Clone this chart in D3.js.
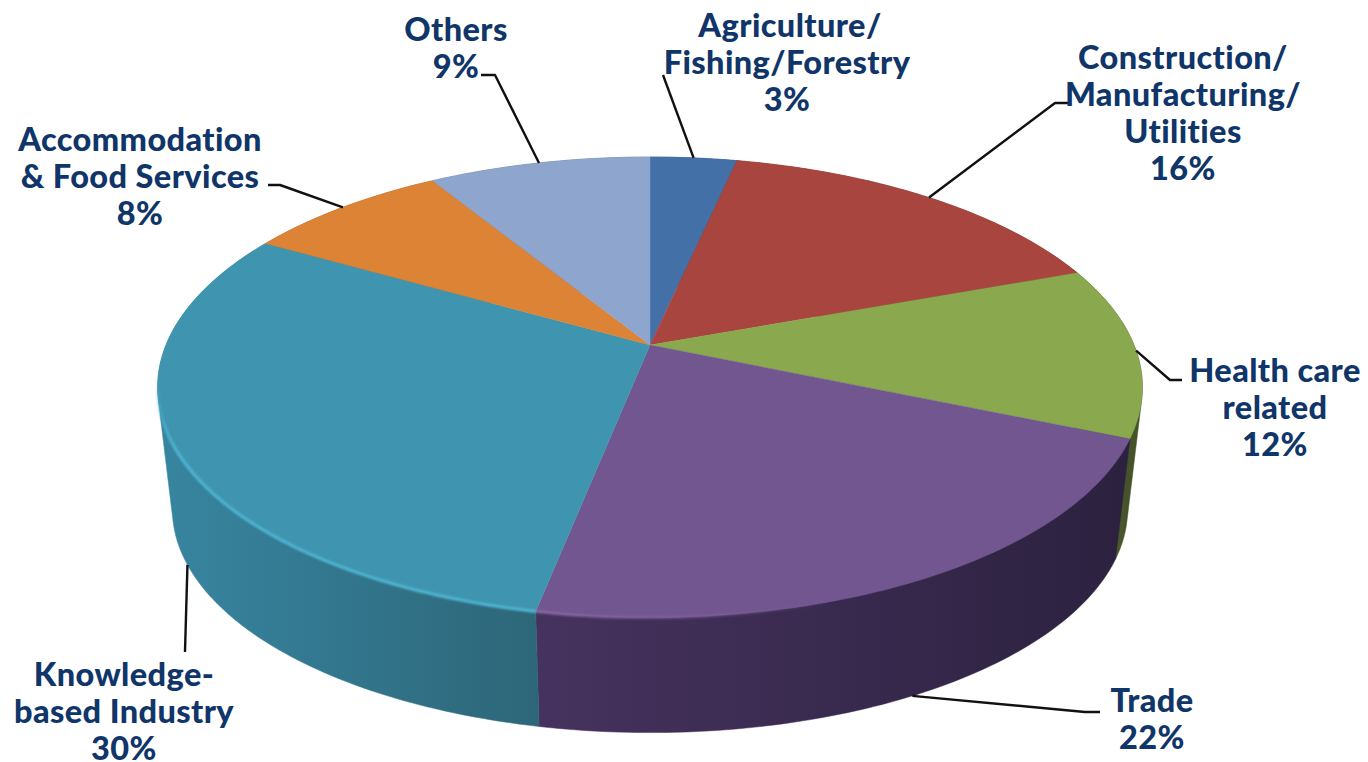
<!DOCTYPE html>
<html><head><meta charset="utf-8">
<script src="https://cdn.jsdelivr.net/npm/d3@7"></script>
<style>html,body{margin:0;padding:0;background:#fff;overflow:hidden}svg{display:block}</style>
</head><body><svg id="c" width="1368" height="762"></svg>
<script>
// data
const categories = ["Agriculture/Fishing/Forestry","Construction/Manufacturing/Utilities","Health care related","Trade","Knowledge-based Industry","Accommodation & Food Services","Others"];
const shares = [3.4,16,12,21.7,30.2,8,8.7];
const labelLines = [["Agriculture/","Fishing/Forestry"],["Construction/","Manufacturing/","Utilities"],["Health care","related"],["Trade"],["Knowledge-","based Industry"],["Accommodation","& Food Services"],["Others"]];
const topColors = ["#4470a8","#a9453f","#8aa84e","#72568f","#3f95b0","#dc8336","#8ea5cd"];
const sideColors = [["#2f4f78","#2f4f78"],["#6f2d2a","#6f2d2a"],["#6a8038","#45522a"],["#46325e","#2c2240"],["#37849f","#2d6678"],["#9a5c26","#9a5c26"],["#63748f","#63748f"]];
// layout
const labelPos = [{x:787,y:24},{x:1183,y:56},{x:1275,y:369},{x:1152,y:699},{x:124,y:673},{x:140,y:138},{x:456,y:28}];
const firstLineShift = [3,0,0,0,0,0,0];
const elbows = [[[663,75]],[[1055,103],[1068,103]],[[1170,380],[1182,380]],[[1085,712],[1100,712]],[[185,652]],[[280,185],[268,185]],[[495,75],[481,75]]];
const onBottomRim = [false,false,false,true,true,false,false];

const svg = d3.select("#c");
const cx=650, cy=345, R=484, S=222.6, k=0.184, depth=123, shrink=0.97;
const rx = d3.scaleLinear().domain([-1,1]).range([-R,R]);
const ry = d3.scaleLinear().domain([-1,1]).range([S,-S]);
function proj(a,bottom){
  const u=Math.sin(a), v=Math.cos(a), d=1+k*v, s=bottom?shrink:1;
  return [cx+s*rx(u)/d, cy+(bottom?depth:0)+s*ry(v)/d];
}
function arcPts(a0,a1,bottom){
  const n=Math.max(2,Math.ceil(Math.abs(a1-a0)/(Math.PI/180)));
  return d3.range(n+1).map(i=>proj(a0+(a1-a0)*i/n,bottom));
}
const line=d3.line();
const arcs=d3.pie().sort(null).value(d=>d)(shares);
const defs=svg.append("defs");
defs.append("filter").attr("id","soft").attr("filterUnits","userSpaceOnUse").attr("x",0).attr("y",0).attr("width",1368).attr("height",762)
  .append("feGaussianBlur").attr("stdDeviation",1.1);
sideColors.forEach((c,i)=>{
  const p=arcs[i];
  const xs=arcPts(p.startAngle,p.endAngle,true).map(d=>d[0]);
  const g=defs.append("linearGradient").attr("id","side"+i).attr("gradientUnits","userSpaceOnUse")
    .attr("x1",d3.min(xs)).attr("x2",d3.max(xs)).attr("y1",0).attr("y2",0);
  g.append("stop").attr("offset",0).attr("stop-color",c[0]);
  g.append("stop").attr("offset",1).attr("stop-color",c[1]);
});
const fadeK=defs.append("linearGradient").attr("id","fadeK").attr("gradientUnits","userSpaceOnUse").attr("x1",0).attr("x2",0).attr("y1",375).attr("y2",450);
fadeK.append("stop").attr("offset",0).attr("stop-color","#4fb6d2").attr("stop-opacity",0);
fadeK.append("stop").attr("offset",1).attr("stop-color","#4fb6d2").attr("stop-opacity",1);
const fadeT=defs.append("linearGradient").attr("id","fadeT").attr("gradientUnits","userSpaceOnUse").attr("x1",540).attr("x2",840).attr("y1",0).attr("y2",0);
fadeT.append("stop").attr("offset",0).attr("stop-color","#8a6aa6").attr("stop-opacity",1);
fadeT.append("stop").attr("offset",1).attr("stop-color","#8a6aa6").attr("stop-opacity",0);
// sides: the hull of the top and bottom rim of each slice, so the silhouette is tangent
svg.append("g").selectAll("path").data(arcs).join("path")
  .attr("d",d=>line(d3.polygonHull(arcPts(d.startAngle,d.endAngle,false).concat(arcPts(d.endAngle,d.startAngle,true))))+"Z")
  .attr("fill",(d,i)=>`url(#side${i})`).attr("stroke",(d,i)=>`url(#side${i})`).attr("stroke-width",.5);
// top
svg.append("g").selectAll("path").data(arcs).join("path")
  .attr("d",d=>line([[cx,cy]].concat(arcPts(d.startAngle,d.endAngle,false)))+"Z")
  .attr("fill",(d,i)=>topColors[i]).attr("stroke",(d,i)=>topColors[i]).attr("stroke-width",.4);
// rim highlights
const rim=svg.append("g").attr("fill","none").attr("filter","url(#soft)");
const kn=arcs[4], tr=arcs[3];
rim.append("path").attr("d",line(arcPts(kn.startAngle,Math.PI*1.46,false))).attr("stroke","url(#fadeK)").attr("stroke-width",3);
rim.append("path").attr("d",line(arcPts(tr.endAngle,tr.endAngle-0.5,false))).attr("stroke","url(#fadeT)").attr("stroke-width",2.5);
// leaders
const lg=svg.append("g").attr("fill","none").attr("stroke","#111").attr("stroke-width",2.4).attr("stroke-linejoin","round");
lg.selectAll("path").data(arcs).join("path").attr("d",(d,i)=>{
  const mid=(d.startAngle+d.endAngle)/2;
  return line([proj(mid,onBottomRim[i])].concat(elbows[i]));
});
// labels
const tg=svg.append("g").attr("font-family","Lato, sans-serif").attr("font-weight",900).attr("font-size",32.5).attr("letter-spacing",.4).attr("fill","#0f3569").attr("text-anchor","middle").attr("dominant-baseline","central");
arcs.forEach((d,i)=>{
  const lines=labelLines[i].concat([Math.round(d.data)+"%"]);
  lines.forEach((t,j)=>tg.append("text").attr("x",labelPos[i].x+(j===0?firstLineShift[i]:0)).attr("y",labelPos[i].y+j*37).text(t));
});
</script></body></html>
